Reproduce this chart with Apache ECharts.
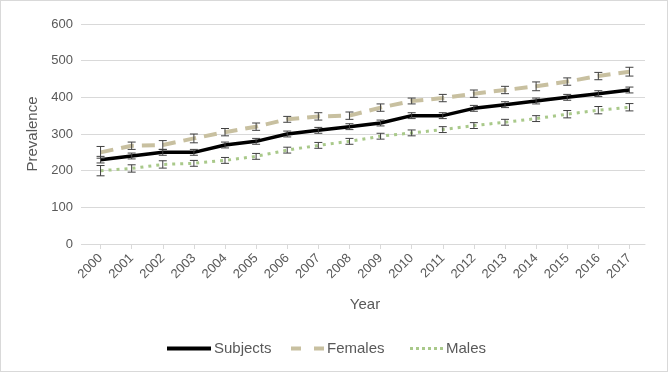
<!DOCTYPE html>
<html>
<head>
<meta charset="utf-8">
<script src="https://cdn.jsdelivr.net/npm/echarts@6/dist/echarts.min.js"></script>
<style>
html,body{margin:0;padding:0;background:#fff;}
#c{width:666px;height:370px;border:1px solid #d9d9d9;}
</style>
</head>
<body>
<div id="c"></div>
<script>
const years = ['2000','2001','2002','2003','2004','2005','2006','2007','2008','2009','2010','2011','2012','2013','2014','2015','2016','2017'];
const subjects = [230,240,250,250,270,280,300,310,320,330,350,350,370,380,390,400,410,420];
const females  = [250,268,270,288,305,320,340,348,350,372,390,398,410,420,430,443,458,470];
const males    = [200,206,217,220,228,239,256,269,280,294,303,312,323,332,342,354,365,373];
const subjErr  = [9,8,8,8,8,8,8,8,8,8,8,8,8,8,8,8,8,8];
const femErr   = [16,10,12,12,10,10,8,10,10,10,8,10,10,10,12,10,10,12];
const maleErr  = [14,10,10,8,8,8,8,8,8,8,8,8,8,8,8,10,10,10];
const yTicks = {min:0, max:600, interval:100};

const C_SUB = '#000000', C_FEM = '#c8c0a0', C_MAL = '#a9c98a';
const FONT = 'Arial, "Liberation Sans", sans-serif';
const txt = '#595959';

function errSeries(name, vals, errs){
  return {
    type:'custom', name: name+' err', z:5,
    data: vals.map((v,i)=>[i, v-errs[i], v+errs[i]]),
    renderItem: function(params, api){
      const lo = api.coord([api.value(0), api.value(1)]);
      const hi = api.coord([api.value(0), api.value(2)]);
      const w = 4;
      const st = {stroke:'#404040', lineWidth:1};
      return {type:'group', children:[
        {type:'line', shape:{x1:lo[0],y1:lo[1],x2:hi[0],y2:hi[1]}, style:st},
        {type:'line', shape:{x1:lo[0]-w,y1:lo[1],x2:lo[0]+w,y2:lo[1]}, style:st},
        {type:'line', shape:{x1:hi[0]-w,y1:hi[1],x2:hi[0]+w,y2:hi[1]}, style:st}
      ]};
    },
    encode:{x:0, y:[1,2]},
    silent:true
  };
}

function legendAt(name, left, w, h, icon){
  return {
    data:[{name:name, icon:icon}], left:left, top:340, orient:'horizontal',
    itemWidth:w, itemHeight:h, padding:0,
    textStyle:{color:txt, fontSize:15, fontFamily:FONT, padding:[0,0,0,-2]}
  };
}

const chart = echarts.init(document.getElementById('c'));
chart.setOption({
  animation:false,
  textStyle:{fontFamily:FONT},
  grid:{left:84, right:22, top:23, bottom:127},
  legend:[
    legendAt('Subjects', 166, 44, 4, 'path://M0,0h44v4h-44z'),
    legendAt('Females', 290, 33, 4, 'path://M0,0h10v4h-10zM23,0h10v4h-10z'),
    legendAt('Males', 409, 33, 3, 'path://M0,0h3v3h-3zM6,0h3v3h-3zM12,0h3v3h-3zM18,0h3v3h-3zM24,0h3v3h-3zM30,0h3v3h-3z')
  ],
  xAxis:{
    type:'category', data:years, boundaryGap:true,
    name:'Year', nameLocation:'middle', nameGap:53,
    nameTextStyle:{color:txt, fontSize:15},
    axisLine:{lineStyle:{color:'#d9d9d9'}},
    axisTick:{show:true, alignWithLabel:true, length:5, lineStyle:{color:'#d9d9d9'}},
    axisLabel:{color:txt, fontSize:13, rotate:45, margin:12, interval:0}
  },
  yAxis:{
    type:'value', min:yTicks.min, max:yTicks.max, interval:yTicks.interval,
    name:'Prevalence', nameLocation:'middle', nameGap:44,
    nameTextStyle:{color:txt, fontSize:15},
    axisLine:{show:false},
    axisTick:{show:true, length:4, lineStyle:{color:'#d9d9d9'}},
    axisLabel:{color:txt, fontSize:13, margin:12},
    splitLine:{lineStyle:{color:'#d9d9d9'}}
  },
  series:[
    {name:'Females', type:'line', data:females, symbol:'none', z:3,
      lineStyle:{color:C_FEM, width:4, type:[13,8]}, itemStyle:{color:C_FEM}},
    {name:'Males', type:'line', data:males, symbol:'none', z:3,
      lineStyle:{color:C_MAL, width:3, type:[3,5], cap:'butt'}, itemStyle:{color:C_MAL}},
    {name:'Subjects', type:'line', data:subjects, symbol:'none', z:4,
      lineStyle:{color:C_SUB, width:3.5}, itemStyle:{color:C_SUB}},
    errSeries('Females', females, femErr),
    errSeries('Males', males, maleErr),
    errSeries('Subjects', subjects, subjErr)
  ]
});
</script>
</body>
</html>
